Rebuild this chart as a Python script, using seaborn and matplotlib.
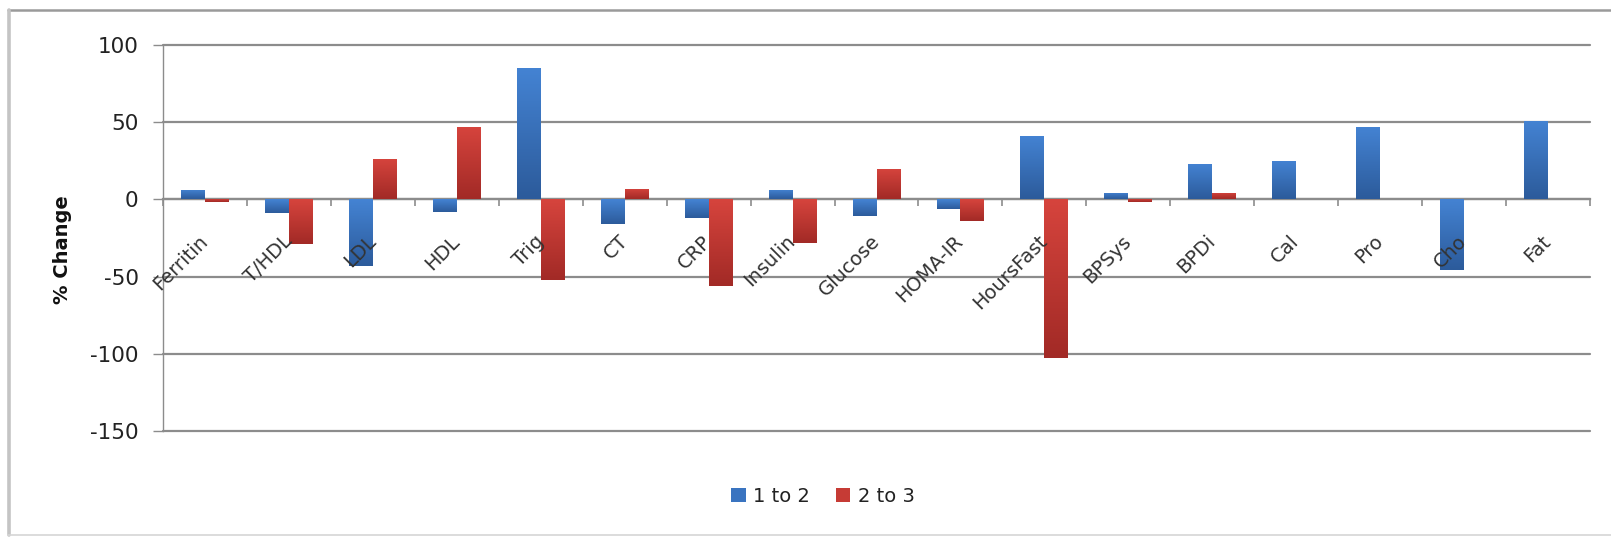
import numpy as np
import pandas as pd
import matplotlib
matplotlib.use("Agg")
import matplotlib.pyplot as plt
from matplotlib.patches import Patch
from matplotlib.lines import Line2D
from matplotlib.colors import LinearSegmentedColormap
from matplotlib.ticker import FixedLocator
import seaborn as sns

categories = ["Ferritin", "T/HDL", "LDL", "HDL", "Trig", "CT", "CRP", "Insulin",
              "Glucose", "HOMA-IR", "HoursFast", "BPSys", "BPDi", "Cal", "Pro", "Cho", "Fat"]
change_1_to_2 = [6, -9, -43, -8, 85, -16, -12, 6, -11, -6, 41, 4, 23, 25, 47, -46, 51]
change_2_to_3 = [-2, -29, 26, 47, -52, 7, -56, -28, 20, -14, -103, -2, 4, 0, 0, 0, 0]
series_names = ["1 to 2", "2 to 3"]
y_ticks = [100, 50, 0, -50, -100, -150]

df = pd.DataFrame({
    "Measure": categories * 2,
    "Change": change_1_to_2 + change_2_to_3,
    "Period": [series_names[0]] * len(categories) + [series_names[1]] * len(categories),
})

sns.set_theme(style="white")
plt.rcParams["font.family"] = ["DejaVu Sans"]
plt.rcParams["axes.unicode_minus"] = False

W, H = 1611, 537
fig = plt.figure(figsize=(W / 100, H / 100), dpi=100)
ax = fig.add_axes([163 / W, 1 - 431 / H, (1590 - 163) / W, (431 - 45) / H])

mid_colors = {"1 to 2": "#3a74c0", "2 to 3": "#c63b35"}
grad = {"1 to 2": ("#2c5b9b", "#4483d3"), "2 to 3": ("#a22a26", "#d6443d")}

sns.barplot(data=df, x="Measure", y="Change", hue="Period", hue_order=series_names,
            palette=mid_colors, width=0.57, saturation=1, errorbar=None,
            legend=False, ax=ax, zorder=3, linewidth=0)

# gradient fill inside each bar
n = len(categories)
for i, patch in enumerate(ax.patches):
    h = patch.get_height()
    if h == 0 or np.isnan(h):
        patch.set_visible(False)
        continue
    series = series_names[0] if i < n else series_names[1]
    cmap = LinearSegmentedColormap.from_list("g", list(grad[series]))
    x0, w = patch.get_x(), patch.get_width()
    y0 = patch.get_y()
    lo, hi = min(y0, y0 + h), max(y0, y0 + h)
    arr = np.linspace(1, 0, 64).reshape(-1, 1)
    im = ax.imshow(arr, cmap=cmap, extent=(x0, x0 + w, lo, hi), origin="upper",
                   aspect="auto", interpolation="bilinear", zorder=3.5)
    im.set_clip_path(patch)

ax.set_xlim(-0.5, n - 0.5)
ax.set_ylim(-150, 100)
ax.set_yticks(y_ticks)

gc = "#8c8c8c"
ax.yaxis.grid(True, color=gc, lw=1.6)
ax.xaxis.grid(False)
for gl in ax.get_ygridlines():
    gl.set_clip_on(False)
ax.yaxis.set_zorder(0.5)   # grid below bars
ax.xaxis.set_zorder(5)     # category labels above bars

for s in ["top", "right"]:
    ax.spines[s].set_visible(False)
ax.spines["left"].set_color(gc)
ax.spines["left"].set_linewidth(1.0)
ax.spines["bottom"].set_position(("data", 0))
ax.spines["bottom"].set_color(gc)
ax.spines["bottom"].set_linewidth(1.6)
ax.spines["bottom"].set_zorder(1)

ax.tick_params(axis="y", length=7, color=gc, width=1, labelsize=15.5, pad=10.5,
               labelcolor="#222222", left=True)
ax.xaxis.set_minor_locator(FixedLocator(np.arange(-0.5, n, 1.0)))
ax.tick_params(axis="x", which="minor", length=5, color=gc, width=1.2,
               direction="out", bottom=True)
ax.tick_params(axis="x", which="major", length=0, pad=28, labelsize=14,
               labelcolor="#333333")
for lbl in ax.get_xticklabels():
    lbl.set_rotation(45)
    lbl.set_ha("right")
    lbl.set_va("center")
    lbl.set_rotation_mode("anchor")

ax.set_xlabel("")
ax.set_ylabel("% Change", fontsize=14, fontweight="bold", color="#111111")
ax.yaxis.set_label_coords(-0.064, 0.47)

handles = [Patch(facecolor=mid_colors[s], edgecolor="none", label=s) for s in series_names]
fig.legend(handles=handles, loc="center", bbox_to_anchor=(823 / W, 1 - 496 / H),
           ncol=2, frameon=False, handlelength=0.75, handleheight=0.75,
           handletextpad=0.4, columnspacing=1.3, fontsize=14,
           labelcolor="#222222")

# outer chart frame (top, left, bottom edges visible)
fig.add_artist(Line2D([8 / W, 1.0], [1 - 10 / H, 1 - 10 / H], transform=fig.transFigure,
                      color="#9a9a9a", lw=1.8))
fig.add_artist(Line2D([9 / W, 9 / W], [1 - 10 / H, 1 - 535 / H], transform=fig.transFigure,
                      color="#c4c4c4", lw=2.6))
fig.add_artist(Line2D([8 / W, 1.0], [1 - 535 / H, 1 - 535 / H], transform=fig.transFigure,
                      color="#d6d6d6", lw=1.2))

fig.savefig("out.png", dpi=100, facecolor="white")
